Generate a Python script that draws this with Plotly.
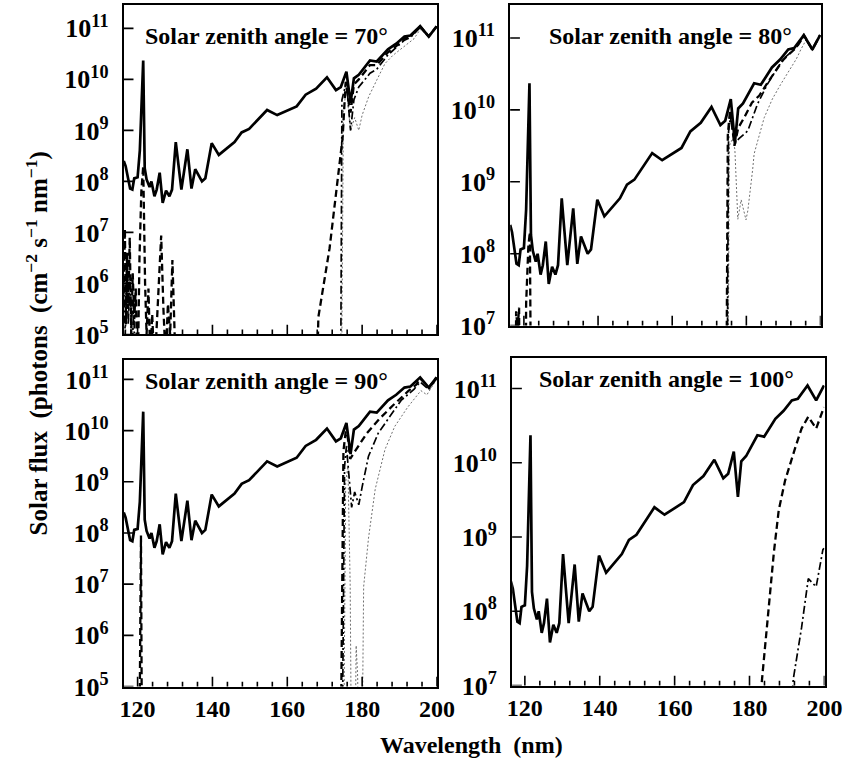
import plotly.graph_objects as go

W, H = 864, 781

# ---------------- data (wavelength in nm, flux as log10 photons cm^-2 s^-1 nm^-1) -------------
# top-of-atmosphere solar flux (solid curve, identical in the four panels)
solar_wl = [116.3, 116.8, 118.0, 118.6, 119.1, 120.0, 120.6, 121.5, 121.9, 122.4, 123.2, 123.7,
            124.5, 125.1, 125.9, 126.7, 127.6, 128.5, 129.2, 130.2, 131.7, 133.3, 134.4, 135.4,
            137.2, 138.1, 139.8, 141.7, 145.9, 147.8, 149.8, 152.5, 154.6, 157.3, 159.9, 162.5,
            164.9, 167.7, 170.6, 173.0, 174.3, 175.8, 176.9, 177.8, 179.1, 182.1, 183.9, 186.9,
            189.1, 191.3, 192.9, 195.5, 197.8, 199.9]
solar_log10 = [8.40, 8.30, 7.86, 7.84, 8.06, 8.08, 8.61, 10.37, 8.26, 8.04, 7.89, 8.00,
               7.71, 7.84, 8.17, 7.58, 7.82, 7.71, 7.84, 8.77, 7.84, 8.63, 7.86, 8.24,
               8.00, 8.06, 8.75, 8.52, 8.77, 8.96, 9.03, 9.23, 9.40, 9.30, 9.38, 9.47,
               9.70, 9.82, 10.04, 9.79, 9.85, 10.15, 9.54, 10.02, 10.09, 10.37, 10.35, 10.59,
               10.70, 10.84, 10.86, 11.04, 10.84, 11.04]

# Solar zenith angle = 70 deg
sza70_dash_wl = [116.3, 116.6, 116.9, 117.2, 117.5, 117.9, 118.3, 118.7, 119.1, 119.5, 120.0, 120.5,
                 121.0, 121.5, 122.0, 122.4, 122.9, 123.4, 123.9, 124.4, 125.0, 125.7, 126.3, 126.9,
                 127.5, 128.1, 128.7, 129.3, 129.9, 130.5, 167.6, 168.3, 171.3, 174.8, 175.6, 176.9,
                 177.8, 179.1, 182.1, 183.9, 186.9, 189.1, 191.3, 192.9, 195.5, 197.8, 199.9]
sza70_dash_log10 = [5.8, 7.07, 5.2, 6.6, 5.5, 6.9, 5.0, 6.2, 5.3, 5.9, 4.0, 6.5,
                    7.8, 8.3, 6.0, 5.0, 5.9, 4.5, 5.4, 4.5, 5.0, 6.2, 6.94, 5.5,
                    4.5, 5.6, 5.0, 6.46, 5.0, 3.0, 3.0, 5.34, 6.69, 8.87, 9.95, 9.35,
                    9.90, 10.00, 10.28, 10.28, 10.53, 10.65, 10.80, 10.84, 11.04, 10.84, 11.04]
sza70_dashdot_wl = [116.3, 116.7, 117.1, 117.5, 118.0, 118.5, 119.0, 119.4, 174.2, 174.6, 175.8, 176.9,
                    177.8, 179.1, 182.1, 183.9, 186.9, 189.1, 191.3, 192.9, 195.5, 197.8, 199.9]
sza70_dashdot_log10 = [6.0, 5.0, 6.3, 5.2, 6.1, 4.5, 5.7, 3.0, 3.0, 9.6, 9.95, 9.0,
                       9.6, 9.85, 10.12, 10.2, 10.48, 10.62, 10.77, 10.82, 11.02, 10.84, 11.04]
sza70_dot_wl = [174.4, 175.0, 175.8, 176.9, 178.0, 179.1, 180.0, 181.8, 184.0, 186.1, 188.2, 190.4,
                192.2, 193.9, 195.5, 197.8, 199.9]
sza70_dot_log10 = [3.0, 9.4, 9.8, 9.0, 9.25, 9.0, 9.3, 9.67, 10.0, 10.31, 10.47, 10.6,
                   10.7, 10.8, 10.98, 10.84, 11.04]

# Solar zenith angle = 80 deg
sza80_dash_wl = [117.6, 117.9, 118.3, 118.7, 119.1, 120.2, 120.6, 121.2, 121.6, 122.0, 122.3,
                 174.3, 175.0, 175.6, 176.8, 177.8, 179.5, 181.5, 183.5, 186.0, 188.0, 190.0,
                 192.9, 195.5, 197.8, 199.9]
sza80_dash_log10 = [3.0, 7.2, 6.95, 7.25, 3.0, 3.0, 7.3, 8.1, 8.3, 7.0, 3.0,
                    3.0, 9.65, 10.0, 9.5, 9.75, 9.9, 10.1, 10.2, 10.4, 10.55, 10.7,
                    10.84, 11.04, 10.84, 11.04]
sza80_dashdot_wl = [174.5, 175.2, 175.7, 176.9, 178.0, 180.4, 183.0, 185.6, 188.0, 190.0, 192.0,
                    194.0, 195.5, 197.8, 199.9]
sza80_dashdot_log10 = [3.0, 9.7, 9.9, 9.53, 9.6, 9.71, 10.08, 10.35, 10.55, 10.71, 10.8,
                       10.9, 11.02, 10.84, 11.04]
sza80_dot_wl = [174.8, 175.4, 176.3, 176.9, 177.7, 178.6, 179.9, 180.4, 181.7, 182.1, 184.8, 187.0,
                189.2, 191.5, 193.5, 194.8, 196.2, 197.8, 199.9]
sza80_dot_log10 = [3.0, 9.5, 9.6, 9.45, 8.48, 8.75, 8.47, 8.6, 9.17, 9.39, 9.89, 10.15,
                   10.35, 10.55, 10.71, 10.85, 10.98, 10.84, 11.04]

# Solar zenith angle = 90 deg
sza90_dash_wl = [120.4, 120.9, 121.2, 174.2, 175.0, 175.8, 176.8, 177.6, 179.1, 181.3, 184.5,
                 188.2, 192.3, 194.5, 195.5, 197.8, 199.9]
sza90_dash_log10 = [3.0, 7.95, 3.0, 3.0, 9.6, 10.1, 9.45, 9.55, 9.71, 9.95, 10.22,
                    10.49, 10.77, 10.9, 11.02, 10.84, 11.04]
sza90_dashdot_wl = [174.6, 175.3, 175.8, 176.5, 177.2, 178.0, 179.1, 180.0, 181.7, 184.3, 187.4,
                    190.4, 193.9, 195.5, 197.8, 199.9]
sza90_dashdot_log10 = [3.0, 9.3, 9.7, 9.0, 8.5, 8.8, 8.55, 8.9, 9.5, 9.95, 10.27,
                       10.59, 10.81, 10.95, 10.8, 11.02]
sza90_dot_wl = [175.0, 175.6, 176.2, 176.8, 177.2, 178.0, 178.4, 178.8, 179.2, 179.9, 180.4,
                181.7, 183.5, 186.1, 188.7, 192.2, 195.7, 197.3, 199.9]
sza90_dot_log10 = [3.0, 9.0, 9.3, 7.0, 3.0, 3.0, 5.8, 5.2, 3.0, 3.0, 6.95,
                   7.9, 8.86, 9.63, 10.08, 10.46, 10.78, 10.7, 11.0]

# Solar zenith angle = 100 deg
sza100_dash_wl = [183.0, 183.4, 185.2, 186.5, 187.8, 189.5, 192.2, 193.9, 195.7, 197.8, 199.9]
sza100_dash_log10 = [6.9, 7.11, 8.0, 8.79, 9.36, 9.76, 10.2, 10.46, 10.62, 10.46, 10.75]
sza100_dashdot_wl = [191.4, 191.7, 193.9, 195.7, 197.8, 199.6, 199.9]
sza100_dashdot_log10 = [6.9, 7.09, 7.78, 8.44, 8.33, 8.83, 8.85]

panel_titles = ["Solar zenith angle = 70°", "Solar zenith angle = 80°",
                "Solar zenith angle = 90°", "Solar zenith angle = 100°"]
x_major_ticks = [120, 140, 160, 180, 200]
x_minor_step = 4

# ---------------- styling ----------------
FONT = "Liberation Serif"
STYLES = {
    "dot": dict(color="#707070", width=1.0, dash="2px,2px"),
    "dashdot": dict(color="black", width=1.7, dash="8px,3px,2px,3px"),
    "dash": dict(color="black", width=2.3, dash="7px,4px"),
    "solid": dict(color="black", width=2.7),
}

def pow10(vals):
    return [10 ** v for v in vals]

panels = [
    # (xaxis, yaxis, series list, x domain px, y domain px, y range, show x labels)
    ("x", "y", [("dot", sza70_dot_wl, sza70_dot_log10), ("dashdot", sza70_dashdot_wl, sza70_dashdot_log10),
                ("dash", sza70_dash_wl, sza70_dash_log10)],
     (122, 444), (5, 341), (5, 11.46), False),
    ("x2", "y2", [("dot", sza80_dot_wl, sza80_dot_log10), ("dashdot", sza80_dashdot_wl, sza80_dashdot_log10),
                  ("dash", sza80_dash_wl, sza80_dash_log10)],
     (519, 838), (5, 332), (7, 11.46), False),
    ("x3", "y3", [("dot", sza90_dot_wl, sza90_dot_log10), ("dashdot", sza90_dashdot_wl, sza90_dashdot_log10),
                  ("dash", sza90_dash_wl, sza90_dash_log10)],
     (122, 444), (367, 700), (5, 11.38), True),
    ("x4", "y4", [("dashdot", sza100_dashdot_wl, sza100_dashdot_log10),
                  ("dash", sza100_dash_wl, sza100_dash_log10)],
     (521, 842), (365, 699), (7, 11.41), True),
]

fig = go.Figure()
layout = dict(
    width=W, height=H, margin=dict(l=0, r=0, t=0, b=0),
    paper_bgcolor="white", plot_bgcolor="white", showlegend=False,
)
shapes = []
MAJOR_LEN, MINOR_LEN, YTICK_LEN = 10, 5, 10

for i, (xa, ya, series, xdom, ydom, yr, showx) in enumerate(panels):
    for style, wl, lv in series:
        fig.add_trace(go.Scatter(x=wl, y=pow10(lv), mode="lines", line=STYLES[style],
                                 xaxis=xa, yaxis=ya, hoverinfo="skip"))
    fig.add_trace(go.Scatter(x=solar_wl, y=pow10(solar_log10), mode="lines", line=STYLES["solid"],
                             xaxis=xa, yaxis=ya, hoverinfo="skip"))
    n = i + 1
    xname = "xaxis" + ("" if n == 1 else str(n))
    yname = "yaxis" + ("" if n == 1 else str(n))
    x0 = 116.3 if i < 3 else 116.6
    xr = [x0, 200.05]
    pw = xdom[1] - xdom[0]
    ph = ydom[1] - ydom[0]
    layout[xname] = dict(
        domain=[xdom[0] / W, xdom[1] / W], anchor=ya, range=xr,
        tickmode="array", tickvals=x_major_ticks, ticktext=[str(v) for v in x_major_ticks],
        showticklabels=showx, ticks="",
        showline=True, linewidth=2, linecolor="black", mirror=True,
        showgrid=False, zeroline=False,
        tickfont=dict(family=FONT, size=24, color="black", weight="bold"),
    )
    lo = int(yr[0])
    decades = list(range(lo, 12))
    layout[yname] = dict(
        domain=[1 - ydom[1] / H, 1 - ydom[0] / H], anchor=xa, type="log", range=list(yr),
        tickvals=[10 ** d for d in decades], ticktext=["10<sup>%d</sup>" % d for d in decades],
        ticks="", ticklabelstandoff=8,
        showline=True, linewidth=2, linecolor="black", mirror=True,
        showgrid=False, zeroline=False,
        tickfont=dict(family=FONT, size=26, color="black", weight="bold"),
    )
    # inside tick marks on the bottom axis (long every 20 nm, short every 4 nm)
    wl_tick = 116
    while wl_tick <= 200:
        if wl_tick >= x0:
            length = MAJOR_LEN if wl_tick in x_major_ticks else MINOR_LEN
            shapes.append(dict(type="line", xref=xa, yref=ya + " domain",
                               x0=wl_tick, x1=wl_tick, y0=0, y1=length / ph,
                               line=dict(color="black", width=1.6), layer="above"))
        wl_tick += x_minor_step
    # inside tick marks on the left axis at each decade
    for d in decades:
        shapes.append(dict(type="line", xref=xa + " domain", yref=ya,
                           x0=0, x1=YTICK_LEN / pw, y0=10 ** d, y1=10 ** d,
                           line=dict(color="black", width=1.6), layer="above"))

layout["shapes"] = shapes
fig.update_layout(**layout)

title_pos = [(269, 37), (684, 37), (269, 388), (680, 386)]
for (px, py), txt in zip(title_pos, panel_titles):
    fig.add_annotation(x=px / W, y=1 - py / H, xref="paper", yref="paper", text=txt,
                       showarrow=False, xanchor="center", yanchor="middle",
                       font=dict(family=FONT, size=24, color="black", weight="bold"))

fig.add_annotation(x=479 / W, y=1 - 760 / H, xref="paper", yref="paper",
                   text="Wavelength  (nm)", showarrow=False, xanchor="center", yanchor="middle",
                   font=dict(family=FONT, size=24, color="black", weight="bold"))
fig.add_annotation(x=33 / W, y=1 - 350 / H, xref="paper", yref="paper", textangle=-90,
                   text="Solar flux  (photons  (cm<sup>−2</sup> s<sup>−1</sup> nm<sup>−1</sup>)",
                   showarrow=False, xanchor="center", yanchor="middle",
                   font=dict(family=FONT, size=25, color="black", weight="bold"))

fig.write_html("out.html", config={"displayModeBar": False},
               post_script="document.body.style.margin='0';document.body.style.overflow='hidden';")
